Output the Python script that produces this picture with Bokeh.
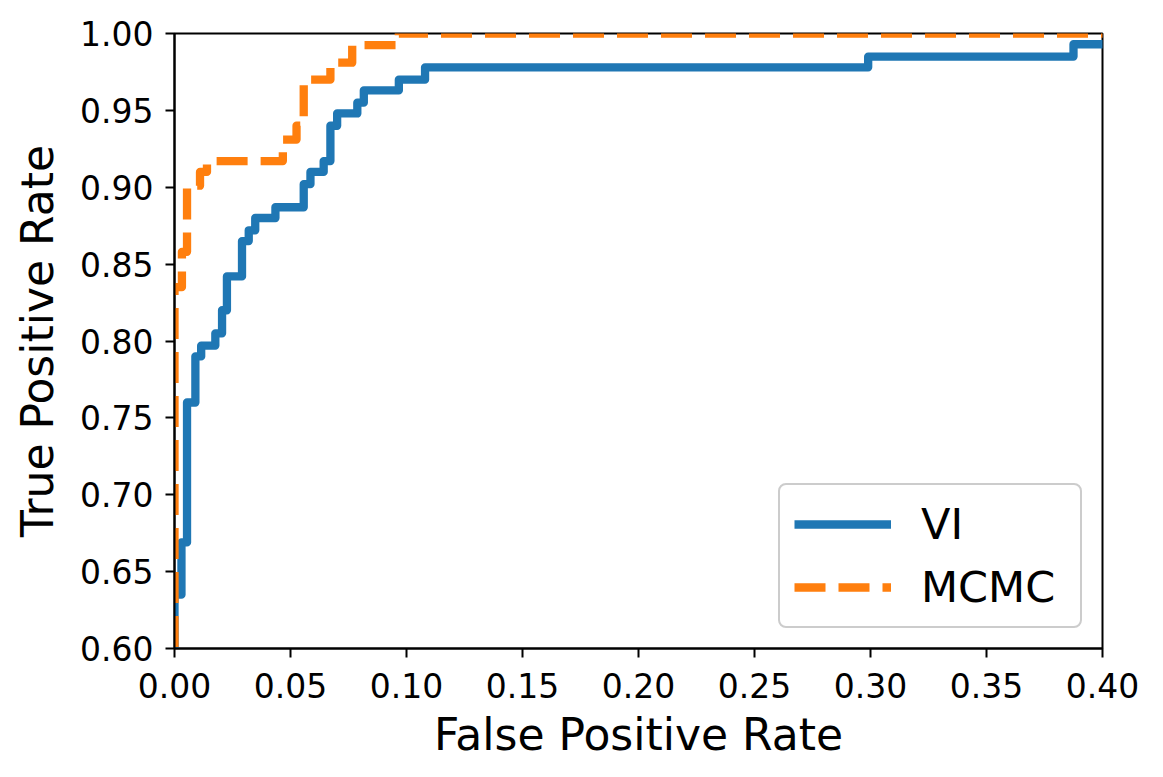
from bokeh.plotting import figure
from bokeh.models import Range1d, FixedTicker
from bokeh.embed import file_html
from bokeh.resources import INLINE

# ROC curves: at each fpr value the curve rises to the given tpr value
vi_fpr = [0.0, 0.0, 0.003, 0.0054, 0.009, 0.0115, 0.0176, 0.0205, 0.0226, 0.0291, 0.032,
          0.0348, 0.0435, 0.0557, 0.0586, 0.0643, 0.0672, 0.0701, 0.0788, 0.0816,
          0.0967, 0.108, 0.299, 0.3875, 1.0]
vi_tpr = [0.0, 0.635, 0.669, 0.760, 0.790, 0.797, 0.805, 0.820, 0.842, 0.865, 0.872,
          0.880, 0.887, 0.902, 0.910, 0.917, 0.940, 0.948, 0.955, 0.963,
          0.970, 0.978, 0.985, 0.993, 1.0]

mcmc_fpr = [0.0, 0.0, 0.0032, 0.0054, 0.011, 0.014, 0.0467, 0.0526, 0.0557, 0.0672,
            0.0766, 0.0967, 1.0]
mcmc_tpr = [0.0, 0.835, 0.858, 0.901, 0.910, 0.917, 0.931, 0.940, 0.970, 0.981,
            0.9925, 1.0, 1.0]

x_ticks = [0.0, 0.05, 0.10, 0.15, 0.20, 0.25, 0.30, 0.35, 0.40]
x_tick_labels = ["0.00", "0.05", "0.10", "0.15", "0.20", "0.25", "0.30", "0.35", "0.40"]
y_ticks = [0.60, 0.65, 0.70, 0.75, 0.80, 0.85, 0.90, 0.95, 1.00]
y_tick_labels = ["0.60", "0.65", "0.70", "0.75", "0.80", "0.85", "0.90", "0.95", "1.00"]

FONT = "DejaVu Sans"

p = figure(frame_width=928, frame_height=615,
           x_range=Range1d(0, 0.4), y_range=Range1d(0.6, 1.0),
           output_backend="svg", toolbar_location=None,
           min_border_left=174, min_border_top=33, min_border_right=40,
           min_border_bottom=90)

p.step(vi_fpr, vi_tpr, mode="after", line_color="#1f77b4", line_width=8.3,
       line_join="round", legend_label="VI")
p.step(mcmc_fpr, mcmc_tpr, mode="after", line_color="#ff7f0e", line_width=8.3,
       line_dash="31 13", line_join="round", legend_label="MCMC")

p.xgrid.visible = False
p.ygrid.visible = False
p.outline_line_color = "black"
p.outline_line_width = 2
p.outline_line_alpha = 1

p.xaxis.ticker = FixedTicker(ticks=x_ticks)
p.yaxis.ticker = FixedTicker(ticks=y_ticks)
p.xaxis.major_label_overrides = dict(zip(x_ticks, x_tick_labels))
p.yaxis.major_label_overrides = dict(zip(y_ticks, y_tick_labels))

for ax in (p.xaxis, p.yaxis):
    ax.axis_line_color = "black"
    ax.axis_line_width = 2
    ax.major_tick_line_color = "black"
    ax.major_tick_line_width = 2
    ax.major_tick_out = 9
    ax.major_tick_in = 0
    ax.minor_tick_line_color = None
    ax.major_label_text_font = FONT
    ax.major_label_text_font_size = "33px"
    ax.major_label_text_color = "black"
    ax.axis_label_text_font = FONT
    ax.axis_label_text_font_size = "44px"
    ax.axis_label_text_font_style = "normal"
    ax.axis_label_text_color = "black"

p.xaxis.axis_label = "False Positive Rate"
p.yaxis.axis_label = "True Positive Rate"
p.xaxis.major_label_standoff = 15
p.yaxis.major_label_standoff = 12
p.xaxis.axis_label_standoff = 8
p.yaxis.axis_label_standoff = 14

lg = p.legend[0]
lg.location = "bottom_right"
lg.margin = 20
lg.padding = 14
lg.spacing = 13
lg.glyph_width = 97
lg.glyph_height = 44
lg.label_height = 44
lg.label_width = 145
lg.label_standoff = 30
lg.label_text_font = FONT
lg.label_text_font_size = "43px"
lg.label_text_color = "black"
lg.border_line_color = "#cccccc"
lg.border_line_width = 2
lg.border_line_alpha = 1
lg.background_fill_alpha = 0.8
try:
    lg.border_radius = 8
except Exception:
    pass

open("out.html", "w").write(file_html(p, INLINE))
